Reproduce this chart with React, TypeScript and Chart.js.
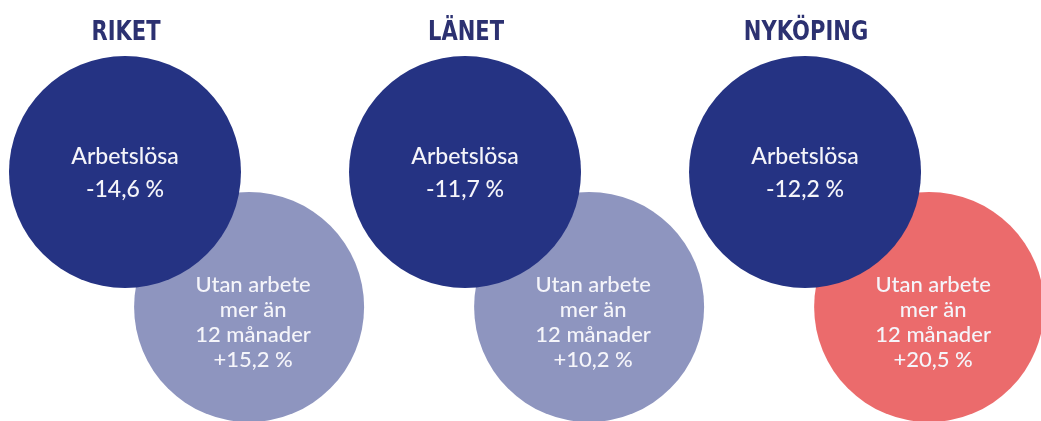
import React, { useEffect, useRef } from "react";
import { Chart, registerables } from "chart.js";

Chart.register(...registerables);

// ---- data ----
const categories = ["RIKET", "LÄNET", "NYKÖPING"];
const arbetslosa = [-14.6, -11.7, -12.2];
const langtidsarbetslosa = [15.2, 10.2, 20.5];
const arbetslosaText = ["Arbetslösa"];
const langtidText = ["Utan arbete", "mer än", "12 månader"];
const rowTop = 1;
const rowBottom = 0;
const columnOffset = 0.365;

// ---- styles ----
const DARK = "#253383";
const LIGHT = "#8e95bf";
const RED = "#eb6b6c";
const lightColors = [LIGHT, LIGHT, RED];
const TITLE_COLOR = "#2c3171";
const TEXT_COLOR = "#f5f5fa";

const fmt = (v: number) =>
  (v > 0 ? "+" : "-") + Math.abs(v).toFixed(1).replace(".", ",") + " %";

const labelPlugin = {
  id: "circleLabels",
  afterDatasetsDraw(chart: any) {
    const ctx = chart.ctx as CanvasRenderingContext2D;
    ctx.save();
    ctx.textAlign = "center";
    ctx.textBaseline = "alphabetic";

    // titles (condensed by horizontal squeeze)
    ctx.fillStyle = TITLE_COLOR;
    ctx.font = "bold 26px 'DejaVu Sans', sans-serif";
    const xs = chart.scales.x;
    const squeeze = 0.81;
    categories.forEach((c, i) => {
      const px = xs.getPixelForValue(i) + 1;
      ctx.save();
      ctx.translate(px, 40);
      ctx.scale(squeeze, 1);
      ctx.fillText(c, 0, 0);
      ctx.restore();
    });

    // dark circles
    const m0 = chart.getDatasetMeta(0);
    ctx.fillStyle = TEXT_COLOR;
    ctx.font = "500 23px Lato, 'Noto Sans', sans-serif";
    m0.data.forEach((el: any, i: number) => {
      const lines = [...arbetslosaText, fmt(arbetslosa[i])];
      const lh = 33;
      const first = el.y + 8.5 - ((lines.length - 1) * lh) / 2;
      lines.forEach((t, k) => ctx.fillText(t, el.x, first + k * lh));
    });

    // light circles
    const m1 = chart.getDatasetMeta(1);
    ctx.font = "500 22px Lato, 'Noto Sans', sans-serif";
    m1.data.forEach((el: any, i: number) => {
      const lines = [...langtidText, fmt(langtidsarbetslosa[i])];
      const lh = 25.3;
      const first = el.y + 22.5 - ((lines.length - 1) * lh) / 2;
      lines.forEach((t, k) => ctx.fillText(t, el.x + 4, first + k * lh));
    });
    ctx.restore();
  },
};

export default function App() {
  const ref = useRef<HTMLCanvasElement | null>(null);
  useEffect(() => {
    if (!ref.current) return;
    const chart = new Chart(ref.current, {
      type: "bubble",
      data: {
        datasets: [
          {
            label: "Arbetslösa",
            data: arbetslosa.map((v, i) => ({ x: i, y: rowTop, r: 116, v })) as any,
            backgroundColor: DARK,
            borderWidth: 0,
            clip: false,
          },
          {
            label: "Utan arbete mer än 12 månader",
            data: langtidsarbetslosa.map((v, i) => ({
              x: i + columnOffset,
              y: rowBottom,
              r: 115,
              v,
            })) as any,
            backgroundColor: lightColors,
            borderWidth: 0,
            clip: false,
          },
        ],
      },
      options: {
        animation: false,
        responsive: true,
        maintainAspectRatio: false,
        events: [],
        layout: { padding: 0, autoPadding: false },
        plugins: {
          legend: { display: false },
          tooltip: { enabled: false },
        },
        scales: {
          x: { type: "linear", display: false, min: -0.3676, max: 2.694 },
          y: { type: "linear", display: false, min: -0.844, max: 2.274 },
        },
      },
      plugins: [labelPlugin],
    });
    return () => chart.destroy();
  }, []);
  return (
    <div
      style={{
        position: "fixed",
        left: 0,
        top: 0,
        width: 1041,
        height: 421,
        background: "#ffffff",
      }}
    >
      <canvas ref={ref} />
    </div>
  );
}
